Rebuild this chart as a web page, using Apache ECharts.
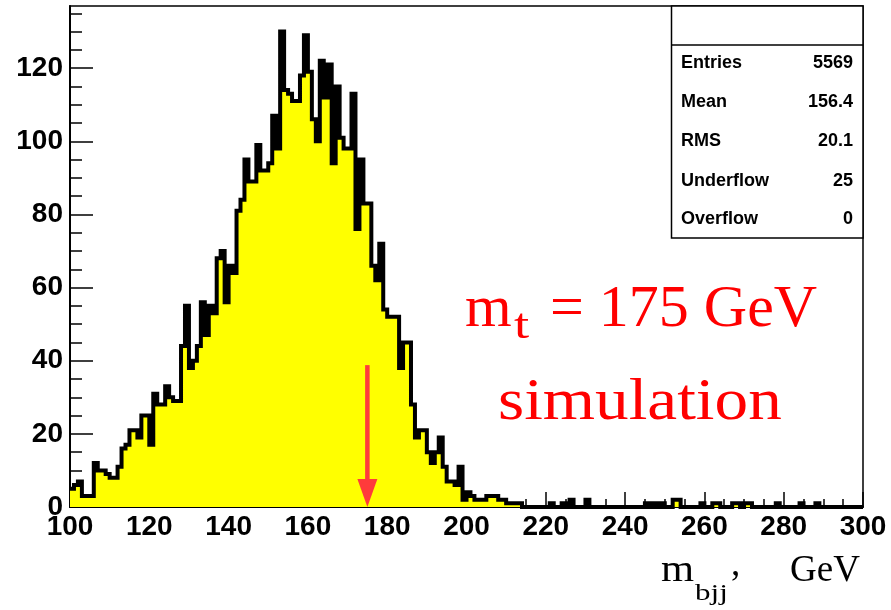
<!DOCTYPE html>
<html>
<head>
<meta charset="utf-8">
<script src="https://cdn.jsdelivr.net/npm/echarts@6/dist/echarts.min.js"></script>
<style>
html,body{margin:0;padding:0;background:#fff;}
#chart{width:891px;height:610px;}
</style>
</head>
<body>
<div id="chart"></div>
<script>
// ---- Data (1 GeV bins, 100..300 GeV) ----
const xMin = 100;
const xMax = 300;
const binWidth = 1;
const counts100to149 = [5,6,7,3,3,3,12,10,10,9, 8,8,11,16,17,21,21,19,25,25, 17,31,28,28,33,30,29,29,44,55, 38,40,44,56,47,55,53,68,70,56, 66,64,81,84,95,89,89,99,92,92];
const counts150to199 = [94,107,98,130,114,113,111,111,118,129, 119,106,100,122,112,121,94,115,101,98, 98,113,76,95,83,83,66,62,72,54, 52,52,52,38,45,45,28,19,21,21, 15,12,15,19,11,7,7,6,11,2];
const counts200to249 = [4,3,2,2,2,3,3,3,2,2, 1,1,1,1,0,0,0,0,0,0, 0,1,0,0,1,0,2,0,0,0, 2,0,0,0,0,0,0,0,0,0, 0,0,0,0,0,1,0,1,0,1];
const counts250to299 = [0,0,2,2,0,0,0,0,0,1, 0,0,1,1,0,0,0,1,1,0, 1,1,0,0,0,0,0,0,1,0, 0,0,0,0,1,0,0,0,1,0, 0,0,0,0,0,0,0,0,0,0];

const yMax = 137;
const yMajorTicks = [0,20,40,60,80,100,120];
const yMinorTicks = [5,10,15,25,30,35,45,50,55,65,70,75,85,90,95,105,110,115,125,130,135];

const statLabels = ["Entries","Mean","RMS","Underflow","Overflow"];
const statValues = ["5569","156.4","20.1","25","0"];

const arrowX = 175;
const arrowFrom = 38.8;
const arrowTo = 0;

// ---- Build series data ----
const counts = [].concat(counts100to149, counts150to199, counts200to249, counts250to299);
const stepData = counts.map((v, i) => [xMin + i * binWidth, v]);
stepData.push([xMax, counts[counts.length - 1]]);

const chart = echarts.init(document.getElementById('chart'), null, {renderer: 'canvas'});

const labelFont = {color:'#000', fontFamily:'Liberation Sans', fontWeight:'bold', fontSize:28};
const red = '#ff0000';

function txt(text, x, y, font, fill, align, extra) {
  return Object.assign({
    type:'text', x:x, y:y, z:100,
    style:{text:text, font:font, fill:fill, textAlign:align||'left', align:align||'left',
           textVerticalAlign:'middle', verticalAlign:'middle'}
  }, extra||{});
}

const statRowsY = [63, 102, 141, 181, 219];
const graphics = [
  {type:'rect', z:90, shape:{x:671.5, y:6, width:191.5, height:232}, style:{fill:'#fff', stroke:'#000', lineWidth:1.5}},
  {type:'line', z:91, shape:{x1:671.5, y1:45, x2:863, y2:45}, style:{stroke:'#000', lineWidth:1.5}}
];
statLabels.forEach((l, i) => {
  graphics.push(txt(l, 681, statRowsY[i], 'bold 18px "Liberation Sans"', '#000', 'left'));
  graphics.push(txt(statValues[i], 853, statRowsY[i], 'bold 18px "Liberation Sans"', '#000', 'right'));
});
// annotation
graphics.push(txt('m', 465, 310, '60px "Liberation Serif"', red, 'left'));
graphics.push(txt('t', 514, 327, '42px "Liberation Serif"', red, 'left', {scaleX:1.3}));
graphics.push(txt('= 175 GeV', 550, 310, '60px "Liberation Serif"', red, 'left'));
graphics.push(txt('simulation', 498, 403, '60px "Liberation Serif"', red, 'left', {scaleX:1.12}));
// axis title
graphics.push(txt('m', 661, 571, '37px "Liberation Serif"', '#000', 'left', {scaleX:1.15}));
graphics.push(txt('bjj', 695, 594, '23px "Liberation Serif"', '#000', 'left', {scaleX:1.35}));
graphics.push(txt(',', 731, 565, '37px "Liberation Serif"', '#000', 'left'));
graphics.push(txt('GeV', 790, 571, '37px "Liberation Serif"', '#000', 'left'));

const option = {
  animation:false,
  backgroundColor:'#fff',
  grid:{left:70, right:28, top:6, bottom:103, show:true, borderColor:'#000', borderWidth:1.5, backgroundColor:'transparent'},
  xAxis:{
    type:'value', min:xMin, max:xMax, interval:20,
    axisLine:{show:true, onZero:false, lineStyle:{color:'#000', width:2}},
    axisTick:{show:true, inside:true, length:15, lineStyle:{color:'#000', width:1.5}},
    minorTick:{show:true, splitNumber:4, length:8, lineStyle:{color:'#000', width:1.5}},
    splitLine:{show:false},
    axisLabel:Object.assign({margin:6}, labelFont)
  },
  yAxis:[
    {
      type:'value', min:0, max:yMax,
      axisLine:{show:true, lineStyle:{color:'#000', width:2}},
      axisTick:{show:true, inside:true, length:23, customValues:yMajorTicks, lineStyle:{color:'#000', width:1.5}},
      splitLine:{show:false},
      axisLabel:Object.assign({margin:7, customValues:yMajorTicks}, labelFont)
    },
    {
      type:'value', min:0, max:yMax, position:'left',
      axisLine:{show:false},
      axisTick:{show:true, inside:true, length:12, customValues:yMinorTicks, lineStyle:{color:'#000', width:1.5}},
      splitLine:{show:false},
      axisLabel:{show:false}
    }
  ],
  series:[
    {
      type:'line', xAxisIndex:0, yAxisIndex:0, data:stepData, step:'end',
      symbol:'none', z:3,
      lineStyle:{color:'#000', width:4, join:'miter'},
      areaStyle:{color:'#ffff00', opacity:1}
    },
    {
      type:'custom', xAxisIndex:0, yAxisIndex:0, z:5,
      data:[[arrowX, arrowFrom, arrowTo]],
      renderItem:function(params, api){
        const top = api.coord([api.value(0), api.value(1)]);
        const bot = api.coord([api.value(0), api.value(2)]);
        const headH = 28, headW = 10;
        return {type:'group', children:[
          {type:'line', shape:{x1:top[0], y1:top[1], x2:bot[0], y2:bot[1]-headH+2}, style:{stroke:'#ff3b3b', lineWidth:4.5}},
          {type:'polygon', shape:{points:[[bot[0]-headW, bot[1]-headH],[bot[0]+headW, bot[1]-headH],[bot[0], bot[1]]]}, style:{fill:'#ff3b3b'}}
        ]};
      }
    }
  ],
  graphic:graphics
};
chart.setOption(option);
</script>
</body>
</html>
